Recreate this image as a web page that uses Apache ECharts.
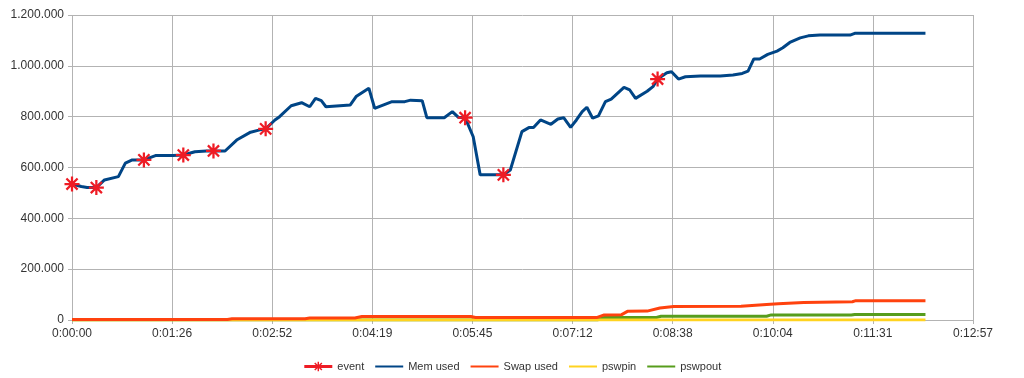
<!DOCTYPE html>
<html>
<head>
<meta charset="utf-8">
<script src="https://cdn.jsdelivr.net/npm/echarts@6/dist/echarts.min.js"></script>
<style>
html, body { margin: 0; padding: 0; background: #fff; }
#chart { width: 1024px; height: 378px; }
</style>
</head>
<body>
<div id="chart"></div>
<script>
//x轴刻度标签(秒 -> h:mm:ss)
var tickLabels = ['0:00:00', '0:01:26', '0:02:52', '0:04:19', '0:05:45', '0:07:12', '0:08:38', '0:10:04', '0:11:31', '0:12:57'];
var axisMaxSec = 777;

//事件点
var eventTime = [0, 21, 62, 96, 122, 167, 339, 372, 505];
var eventValue = [535000, 521000, 630000, 649000, 665000, 752000, 796000, 571000, 948000];

//内存使用
var memTime = [0, 8, 13, 21, 28, 40, 46, 52, 62, 72,
	87, 96, 106, 116, 122, 132, 142, 154, 162, 167,
	175, 179, 189, 198, 205, 210, 215, 219, 240, 245,
	256, 261, 276, 287, 292, 302, 306, 321, 328, 333,
	339, 346, 352, 372, 378, 388, 394, 398, 404, 413,
	419, 424, 430, 435, 440, 444, 449, 454, 460, 465,
	476, 481, 486, 496, 501, 505, 513, 517, 523, 529,
	542, 559, 570, 578, 583, 588, 593, 600, 608, 613,
	619, 628, 635, 645, 671, 675, 736];
var memUsed = [535000, 525000, 521000, 521000, 551000, 564000, 617000, 630000, 630000, 647000,
	647000, 649000, 662000, 665000, 665000, 665000, 708000, 739000, 748000, 752000,
	787000, 800000, 843000, 855000, 839000, 872000, 863000, 839000, 846000, 879000,
	912000, 833000, 859000, 859000, 865000, 863000, 796000, 796000, 820000, 798000,
	796000, 721000, 571000, 571000, 590000, 741000, 757000, 757000, 787000, 770000,
	791000, 796000, 758000, 787000, 820000, 837000, 794000, 803000, 859000, 869000,
	915000, 905000, 872000, 900000, 918000, 948000, 973000, 977000, 948000, 957000,
	960000, 960000, 964000, 970000, 979000, 1027000, 1027000, 1045000, 1058000, 1071000,
	1092000, 1110000, 1118000, 1121000, 1121000, 1128000, 1128000];

//交换区使用
var swapTime = [0, 134, 138, 201, 205, 244, 250, 344, 348, 453, 459, 474, 479, 496, 507, 519, 577, 599, 609, 631, 673, 676, 736];
var swapUsed = [2000, 2000, 5000, 5000, 8000, 8000, 14000, 14000, 10000, 10000, 20000, 21000, 34000, 35000, 47000, 53000, 54000, 61000, 64000, 69000, 72000, 76000, 76000];

//pswpin
var pswpinTime = [0, 736];
var pswpinValue = [0, 0];

//pswpout
var pswpoutTime = [0, 453, 459, 504, 508, 599, 603, 672, 675, 736];
var pswpoutValue = [0, 0, 10000, 10000, 15000, 15000, 20000, 20000, 22000, 22000];

var pairs = function(xs, ys) {
	var out = [];
	for(var i = 0; i < xs.length; i++) {
		out.push([xs[i], ys[i]]);
	}
	return out;
};

//星号标记
var starPath = 'path://M0,6.8H16V9.2H0Z M6.8,0H9.2V16H6.8Z M1.2,2.9L2.9,1.2L14.8,13.1L13.1,14.8Z M13.1,1.2L14.8,2.9L2.9,14.8L1.2,13.1Z';

var fontName = 'Liberation Sans';
var gridColor = '#b3b3b3';
var step = axisMaxSec / 9;

//图例: 只画线, 不画圆点
var lineOnly = function(name) {
	return {
		name: name,
		itemStyle: { opacity: 0 }
	};
};

var chart = echarts.init(document.getElementById('chart'));
chart.setOption({
	animation: false,
	textStyle: {
		fontFamily: fontName
	},
	grid: {
		left: 72,
		right: 51,
		top: 15,
		bottom: 58,
		containLabel: false
	},
	legend: {
		bottom: 1,
		left: 'center',
		itemWidth: 28,
		itemHeight: 12,
		itemGap: 10,
		textStyle: {
			fontFamily: fontName,
			fontSize: 11,
			color: '#333'
		},
		data: [{
			name: 'event',
			lineStyle: { width: 3, color: '#ee1c25', opacity: 1 }
		}, lineOnly('Mem used'), lineOnly('Swap used'), lineOnly('pswpin'), lineOnly('pswpout')]
	},
	xAxis: {
		type: 'value',
		min: 0,
		max: axisMaxSec,
		interval: step,
		axisLine: { show: false },
		axisTick: { show: true, length: 4, lineStyle: { color: gridColor } },
		splitLine: { show: true, lineStyle: { color: gridColor, width: 1 } },
		axisLabel: {
			color: '#333',
			fontSize: 12,
			margin: 8,
			showMaxLabel: true,
			formatter: function(v) {
				return tickLabels[Math.round(v / step)] || '';
			}
		}
	},
	yAxis: {
		type: 'value',
		min: 0,
		max: 1200000,
		interval: 200000,
		axisLine: { show: false },
		axisTick: { show: true, length: 4, lineStyle: { color: gridColor } },
		splitLine: { show: true, lineStyle: { color: gridColor, width: 1 } },
		axisLabel: {
			color: '#333',
			fontSize: 12,
			margin: 8,
			formatter: function(v) {
				return String(v).replace(/\B(?=(\d{3})+(?!\d))/g, '.');
			}
		}
	},
	series: [{
		name: 'event',
		type: 'line',
		z: 10,
		data: pairs(eventTime, eventValue),
		symbol: starPath,
		symbolSize: 15,
		itemStyle: { color: '#ee1c25' },
		lineStyle: { width: 0, opacity: 0 },
		color: '#ee1c25'
	}, {
		name: 'Mem used',
		type: 'line',
		z: 8,
		data: pairs(memTime, memUsed),
		symbol: 'none',
		color: '#004586',
		lineStyle: { width: 3, color: '#004586' }
	}, {
		name: 'Swap used',
		type: 'line',
		z: 6,
		data: pairs(swapTime, swapUsed),
		symbol: 'none',
		color: '#ff420e',
		lineStyle: { width: 3, color: '#ff420e' }
	}, {
		name: 'pswpin',
		type: 'line',
		z: 4,
		data: pairs(pswpinTime, pswpinValue),
		symbol: 'none',
		color: '#ffd320',
		lineStyle: { width: 3, color: '#ffd320' }
	}, {
		name: 'pswpout',
		type: 'line',
		z: 2,
		data: pairs(pswpoutTime, pswpoutValue),
		symbol: 'none',
		color: '#579d1c',
		lineStyle: { width: 3, color: '#579d1c' }
	}]
});
</script>
</body>
</html>
